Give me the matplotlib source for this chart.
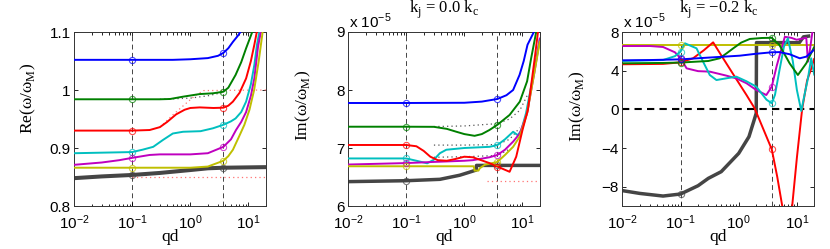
import matplotlib
matplotlib.use("Agg")
import matplotlib.pyplot as plt
from matplotlib.ticker import LogLocator, FixedLocator, NullFormatter

plt.rcParams['font.family'] = ['Liberation Sans', 'DejaVu Sans']
plt.rcParams['axes.unicode_minus'] = True

# ---------------- data ----------------
qd_marks = [0.1, 3.7]

# Panel 1: Re(omega/omega_M)
re_blue_x = [0.01, 0.1, 0.5, 1, 2, 3, 3.7, 4.5, 5.4, 6.5, 7.5, 9]
re_blue_y = [1.052, 1.052, 1.052, 1.053, 1.055, 1.059, 1.064, 1.072, 1.083, 1.093, 1.102, 1.12]
re_green_x = [0.01, 0.1, 0.3, 0.45, 0.75, 1.45, 2.45, 3.7, 4.5, 6.0, 7.5, 9.1, 11.6, 13]
re_green_y = [0.984, 0.984, 0.984, 0.9845, 0.9885, 0.993, 0.9943, 0.997, 1.004, 1.026, 1.048, 1.072, 1.1, 1.12]
re_red_x = [0.01, 0.1, 0.2, 0.3, 0.4, 0.57, 0.8, 1.0, 1.45, 2.5, 3.7, 4.5, 5.4, 7, 9.1, 11, 12.6, 13.9, 16]
re_red_y = [0.930, 0.930, 0.931, 0.936, 0.945, 0.958, 0.966, 0.969, 0.970, 0.969, 0.9695, 0.973, 0.980, 0.995, 1.02, 1.05, 1.078, 1.1, 1.14]
re_cyan_x = [0.01, 0.1, 0.15, 0.23, 0.34, 0.5, 0.75, 1.5, 2.45, 3.7, 5, 6, 7.5, 9.1, 11, 12.6, 14, 15.4, 17]
re_cyan_y = [0.891, 0.893, 0.897, 0.902, 0.914, 0.925, 0.928, 0.929, 0.934, 0.940, 0.946, 0.951, 0.962, 0.98, 1.01, 1.043, 1.078, 1.1, 1.13]
re_mag_x = [0.01, 0.03, 0.06, 0.1, 0.2, 0.3, 1, 2, 3.7, 5, 6.1, 7.5, 9.1, 11, 12.6, 14.6, 16.3, 18]
re_mag_y = [0.871, 0.875, 0.879, 0.883, 0.888, 0.889, 0.889, 0.891, 0.902, 0.915, 0.931, 0.945, 0.962, 0.99, 1.02, 1.075, 1.1, 1.13]
re_yel_x = [0.01, 0.1, 1, 2, 3.7, 4.5, 5.4, 6.9, 8.5, 10.4, 12.5, 15, 17.5, 20]
re_yel_y = [0.866, 0.866, 0.866, 0.868, 0.878, 0.886, 0.897, 0.92, 0.94, 0.966, 1.0, 1.05, 1.1, 1.14]
re_blk_x = [0.01, 0.03, 0.1, 0.3, 1, 2, 3.7, 20]
re_blk_y = [0.848, 0.851, 0.8535, 0.857, 0.862, 0.865, 0.866, 0.867]
re_rdot1_x = [0.1, 20]
re_rdot1_y = [0.85, 0.85]
re_rdot2_x = [0.3, 0.5, 0.8, 1.2, 1.7, 20]
re_rdot2_y = [0.936, 0.957, 0.975, 0.990, 0.999, 1.0]
re_kdot_x = [0.3, 1, 2, 3.7]
re_kdot_y = [0.984, 0.986, 0.990, 0.996]

# Panel 2: Im(omega/omega_M), k_j = 0.0 k_c  (units of 1e-5)
im0_blue_x = [0.01, 0.1, 1, 2, 3.7, 5.3, 6.9, 8.9, 10.5, 12.2, 15.7, 18]
im0_blue_y = [7.776, 7.776, 7.78, 7.80, 7.845, 7.91, 8.0, 8.26, 8.5, 8.78, 9.0, 9.2]
im0_green_x = [0.01, 0.1, 0.3, 0.5, 0.73, 1.0, 1.5, 2.0, 2.7, 3.7, 6, 9, 12, 14.1, 17.2, 19]
im0_green_y = [7.367, 7.367, 7.365, 7.33, 7.28, 7.24, 7.21, 7.24, 7.31, 7.40, 7.57, 7.8, 8.15, 8.55, 9.0, 9.3]
im0_red_x = [0.01, 0.1, 0.15, 0.2, 0.26, 0.35, 0.5, 0.7, 1.0, 1.4, 2.7, 3.7, 6, 7.8, 10, 12.4, 16, 19]
im0_red_y = [7.052, 7.052, 7.03, 6.95, 6.85, 6.79, 6.78, 6.81, 6.85, 6.84, 6.74, 6.68, 6.59, 6.85, 7.31, 7.66, 8.5, 9.1]
im0_cyan_x = [0.01, 0.1, 0.15, 0.23, 0.3, 0.38, 0.49, 1, 2.7, 3.7, 5, 6.9, 8.3, 9.5, 11.5, 15, 20]
im0_cyan_y = [6.82, 6.82, 6.78, 6.736, 6.8, 6.91, 6.97, 7.0, 7.02, 7.05, 7.15, 7.28, 7.22, 7.3, 7.6, 8.2, 8.9]
im0_mag_x = [0.01, 0.1, 0.3, 1, 1.4, 2.7, 3.7, 5, 6.9, 9, 12, 16, 20]
im0_mag_y = [6.715, 6.74, 6.76, 6.78, 6.79, 6.84, 6.88, 6.97, 7.11, 7.25, 7.6, 8.3, 8.9]
im0_yel_x = [0.01, 0.1, 1.45, 1.5, 1.75, 1.84, 2.24, 3.7, 5, 6.9, 9, 12, 16, 20]
im0_yel_y = [6.685, 6.685, 6.685, 6.61, 6.61, 6.65, 6.71, 6.76, 6.88, 7.02, 7.2, 7.6, 8.3, 8.85]
im0_blk_x = [0.01, 0.1, 0.38, 0.83, 1.2, 1.6, 1.62, 3.7, 20]
im0_blk_y = [6.42, 6.436, 6.46, 6.53, 6.58, 6.62, 6.70, 6.70, 6.70]
im0_rdot_x = [2.5, 20]
im0_rdot_y = [6.43, 6.43]
im0_kdot1_x = [0.3, 1, 3.7, 6, 9, 12]
im0_kdot1_y = [7.37, 7.38, 7.42, 7.5, 7.65, 7.9]
im0_kdot2_x = [0.3, 1, 3.7, 6, 9]
im0_kdot2_y = [7.05, 7.05, 7.06, 7.15, 7.35]
im0_kdot3_x = [0.3, 1, 3.7, 6]
im0_kdot3_y = [6.84, 6.85, 6.87, 6.98]

# Panel 3: Im(omega/omega_M), k_j = -0.2 k_c  (units of 1e-5)
im2_yel_x = [0.01, 0.1, 3.7, 20]
im2_yel_y = [6.7, 6.7, 6.7, 6.7]
im2_blue_x = [0.01, 0.03, 0.1, 0.3, 1.04, 2, 3.7, 5, 7.5, 11.2, 14.5, 17, 20]
im2_blue_y = [5.07, 5.1, 5.17, 5.35, 5.55, 5.75, 5.9, 5.92, 5.7, 5.28, 5.45, 5.8, 6.2]
im2_green_x = [0.01, 0.05, 0.1, 0.3, 0.47, 0.62, 0.8, 1.1, 1.55, 2.5, 3.7, 5.0, 7.5, 10.4, 14.5, 20]
im2_green_y = [4.76, 4.8, 4.84, 5.0, 5.28, 5.8, 6.3, 6.9, 7.28, 7.38, 7.4, 6.66, 4.76, 3.55, 4.76, 6.5]
im2_red_x = [0.01, 0.05, 0.1, 0.164, 0.25, 0.363, 0.472, 0.8, 1.36, 1.88, 3.7, 4.6, 5.6, 6.8, 8.3, 10, 12.3, 15, 17.7, 20]
im2_red_y = [4.66, 4.7, 4.86, 5.28, 6.1, 6.93, 5.83, 3.65, 1.48, 0.1, -4.14, -7.0, -10.0, -13.0, -10.0, -5.0, 0.0, 3.0, 4.24, 5.3]
im2_cyan_x = [0.01, 0.05, 0.08, 0.1, 0.119, 0.188, 0.25, 0.318, 0.414, 0.6, 0.91, 1.36, 2.0, 3.0, 3.7, 4.2, 5.0, 6.0, 7.0, 8.5, 10, 11.9, 13.5, 15.5, 17.6, 20]
im2_cyan_y = [5.0, 5.1, 5.5, 5.97, 6.83, 6.31, 4.8, 3.55, 3.03, 3.2, 3.38, 2.9, 2.35, 1.0, 0.62, 1.5, 4.0, 6.5, 7.35, 5.0, 2.0, -0.17, 1.5, 3.2, 5.28, 3.5]
im2_mag_x = [0.01, 0.03, 0.05, 0.08, 0.1, 0.127, 0.2, 0.318, 0.6, 0.91, 1.36, 2.0, 2.98, 3.7, 4.5, 6.2, 8, 9.9, 14.5, 15.5, 16.6, 18.5, 20]
im2_mag_y = [6.55, 6.55, 6.45, 5.9, 5.28, 4.24, 3.95, 3.9, 3.5, 3.2, 2.7, 2.0, 1.48, 2.35, 4.5, 7.5, 7.4, 7.2, 7.4, 4.93, 6.0, 8.0, 8.5]
im2_blk_x = [0.01, 0.02, 0.05, 0.1, 0.2, 0.3, 0.5, 1, 1.5, 1.8, 2.0, 2.02, 3.7, 11, 13, 17]
im2_blk_y = [-8.41, -8.7, -8.97, -8.76, -7.9, -7.14, -6.45, -4.55, -2.83, -1.3, -0.4, 6.9, 6.9, 6.9, 7.5, 7.6]

# ---------------- styling ----------------
C_BLUE = (0, 0, 1)
C_GREEN = (0, 0.5, 0)
C_RED = (1, 0, 0)
C_CYAN = (0, 0.75, 0.75)
C_MAG = (0.75, 0, 0.75)
C_YEL = (0.75, 0.75, 0)
C_BLK = (0.27, 0.27, 0.27)

W, H = 830, 249
fig = plt.figure(figsize=(W / 100, H / 100), dpi=100)
lefts = [74, 348, 622.4]
ax_w, ax_top, ax_bot = 192, 32, 206
axes = [fig.add_axes([l / W, (H - ax_bot) / H, ax_w / W, (ax_bot - ax_top) / H]) for l in lefts]

serif = ['Liberation Serif', 'DejaVu Serif']
TICK_FS = 11


def mark_idx(x):
    return [i for i, v in enumerate(x) if v in qd_marks]


def curve(ax, x, y, color, lw=1.4, zorder=3):
    ax.plot(x, y, color=color, lw=lw, zorder=zorder, solid_capstyle='butt')
    idx = mark_idx(x)
    ax.plot([x[i] for i in idx], [y[i] for i in idx], ls='none', marker='o',
            ms=4.5, mfc='none', mec=color, mew=0.8, alpha=0.7, zorder=zorder + 0.5)


def style(ax, ylim, yticks, ylabel, label_y, label_x):
    ax.set_xscale('log')
    ax.set_xlim(0.01, 20)
    ax.set_ylim(*ylim)
    ax.yaxis.set_major_locator(FixedLocator(yticks))
    ax.xaxis.set_major_locator(LogLocator(base=10, numticks=10))
    ax.xaxis.set_minor_locator(LogLocator(base=10, subs=range(2, 10), numticks=20))
    ax.xaxis.set_minor_formatter(NullFormatter())
    ax.tick_params(which='both', direction='in', top=True, right=True, labelsize=TICK_FS,
                   width=0.6, colors='black')
    ax.tick_params(which='major', length=3.2)
    ax.tick_params(which='minor', length=1.8)
    ax.tick_params(axis='x', which='major', pad=5)
    ax.tick_params(axis='y', which='major', pad=2.5)
    for s in ax.spines.values():
        s.set_linewidth(0.7)
        s.set_color('#333333')
    for xv in qd_marks:
        ax.axvline(xv, color='#444444', lw=0.7, ls=(0, (5, 3.5)), zorder=1)
    ax.set_xlabel('qd', family=serif, fontsize=12.5, labelpad=-2)
    ax.set_ylabel(ylabel, family=serif, fontsize=12.5)
    ax.yaxis.set_label_coords(label_x, label_y)


# Panel 1
ax = axes[0]
curve(ax, re_blk_x, re_blk_y, C_BLK, lw=2.9, zorder=2)
ax.plot(re_rdot1_x, re_rdot1_y, color=(1, 0.45, 0.45), lw=0.9, ls=(0, (1, 2.5)), zorder=2)
ax.plot(re_rdot2_x, re_rdot2_y, color=(1, 0.45, 0.45), lw=0.9, ls=(0, (1, 2.5)), zorder=2)
ax.plot(re_kdot_x, re_kdot_y, color='#555555', lw=0.9, ls=(0, (1, 2.5)), zorder=2)
curve(ax, re_blue_x, re_blue_y, C_BLUE)
curve(ax, re_green_x, re_green_y, C_GREEN)
curve(ax, re_red_x, re_red_y, C_RED)
curve(ax, re_cyan_x, re_cyan_y, C_CYAN)
curve(ax, re_mag_x, re_mag_y, C_MAG)
curve(ax, re_yel_x, re_yel_y, C_YEL)
style(ax, (0.8, 1.1), [0.8, 0.9, 1.0, 1.1], 'Re(ω/ω$_\\mathregular{M}$)', 0.62, -0.19)
ax.set_yticklabels(['0.8', '0.9', '1', '1.1'])

# Panel 2
ax = axes[1]
curve(ax, im0_blk_x, im0_blk_y, C_BLK, lw=2.5, zorder=2)
ax.plot(im0_rdot_x, im0_rdot_y, color=(1, 0.45, 0.45), lw=0.9, ls=(0, (1, 2.5)), zorder=2)
for dx, dy in [(im0_kdot1_x, im0_kdot1_y), (im0_kdot2_x, im0_kdot2_y), (im0_kdot3_x, im0_kdot3_y)]:
    ax.plot(dx, dy, color='#555555', lw=0.9, ls=(0, (1, 2.5)), zorder=2)
curve(ax, im0_blue_x, im0_blue_y, C_BLUE)
curve(ax, im0_green_x, im0_green_y, C_GREEN)
curve(ax, im0_cyan_x, im0_cyan_y, C_CYAN)
curve(ax, im0_mag_x, im0_mag_y, C_MAG)
curve(ax, im0_yel_x, im0_yel_y, C_YEL)
curve(ax, im0_red_x, im0_red_y, C_RED)
style(ax, (6, 9), [6, 7, 8, 9], 'Im(ω/ω$_\\mathregular{M}$)', 0.58, -0.18)

# Panel 3
ax = axes[2]
ax.axhline(0, color='black', lw=1.5, ls=(0, (3.5, 2.5)), zorder=1.5)
curve(ax, im2_blk_x, im2_blk_y, C_BLK, lw=2.5, zorder=2)
curve(ax, im2_yel_x, im2_yel_y, C_YEL)
curve(ax, im2_red_x, im2_red_y, C_RED)
curve(ax, im2_mag_x, im2_mag_y, C_MAG)
curve(ax, im2_cyan_x, im2_cyan_y, C_CYAN)
curve(ax, im2_green_x, im2_green_y, C_GREEN)
curve(ax, im2_blue_x, im2_blue_y, C_BLUE)
style(ax, (-10, 8), [-8, -4, 0, 4, 8], 'Im(ω/ω$_\\mathregular{M}$)', 0.57, -0.183)

# exponent labels and titles
for ax in axes[1:]:
    ax.text(0.005, 1 + 3.7 / 174, 'x 10$^{\\mathregular{-5}}$', transform=ax.transAxes,
            ha='left', va='baseline', fontsize=11)
axes[1].text(0.5, 1 + 18.7 / 174, 'k$_\\mathregular{j}$ = 0.0 k$_\\mathregular{c}$',
             transform=axes[1].transAxes, ha='center', va='baseline', family=serif, fontsize=12)
axes[2].text(0.5, 1 + 18.7 / 174, 'k$_\\mathregular{j}$ = \u22120.2 k$_\\mathregular{c}$',
             transform=axes[2].transAxes, ha='center', va='baseline', family=serif, fontsize=12)

fig.savefig('out.png', dpi=100)
